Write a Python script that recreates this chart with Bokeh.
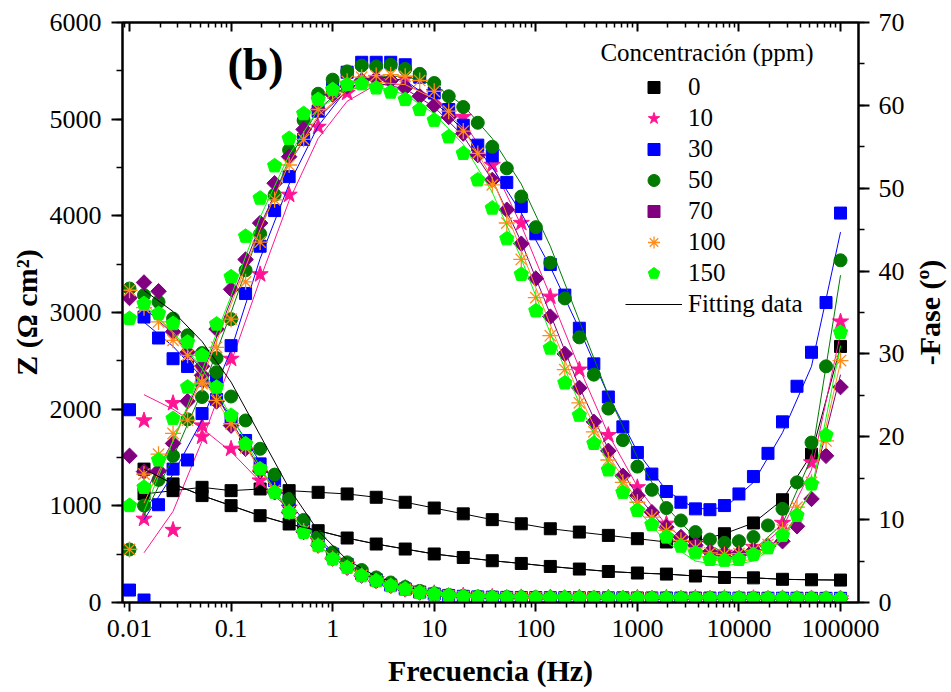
import math
from bokeh.plotting import figure
from bokeh.models import (Range1d, LinearAxis, LogAxis, FixedTicker,
                          SingleIntervalTicker, Legend, LegendItem, Label)
from bokeh.embed import file_html
from bokeh.resources import INLINE

# ---------------- data ----------------
FREQ = [0.01, 0.01389, 0.01931, 0.02683, 0.03728, 0.05179, 0.07197,
        0.1, 0.1389, 0.1931, 0.2683, 0.3728, 0.5179, 0.7197,
        1, 1.389, 1.931, 2.683, 3.728, 5.179, 7.197,
        10, 13.89, 19.31, 26.83, 37.28, 51.79, 71.97,
        100, 138.9, 193.1, 268.3, 372.8, 517.9, 719.7,
        1000, 1389, 1931, 2683, 3728, 5179, 7197,
        10000, 13890, 19310, 26830, 37280, 51790, 71970, 100000]
FREQ_ODD = FREQ[1::2]   # every other frequency (0 and 10 ppm data, fitted curves)

# ---- measured points ----
# 0 ppm (every other frequency)
PH_0 = [13.1, 13.5, 13.9, 13.5, 13.7, 13.5, 13.3, 13.1, 12.7, 12.1, 11.4, 10.7, 10.0,
        9.5, 8.9, 8.5, 8.1, 7.7, 7.3, 7.4, 8.3, 9.6, 12.4, 17.9, 30.9]
Z_0 = [1380, 1227, 1106, 1002, 898, 812, 743, 667, 605, 553, 502, 466, 432,
       404, 373, 346, 321, 305, 294, 274, 259, 255, 240, 235, 232]

# 10 ppm (every other frequency)
PH_10 = [10.1, 8.75, 20.0, 29.4, 39.6, 49.2, 57.4, 61.5, 63.3, 63.2, 61.6, 58.6, 52.8,
         45.8, 36.9, 28.1, 20.2, 13.9, 9.5, 7.1, 6.0, 6.7, 9.6, 16.9, 33.9]
Z_10 = [1883, 2062, 1831, 1590, 1261, 980, 640, 390, 240, 150, 95, 70, 58,
        53, 51, 50, 49, 48, 47, 46, 45, 44, 43, 42, 41]

# 30 ppm
PH_30 = [1.5, 0.3, 11.8, 16.1, 17.2, 22.8, 27.2, 31.0, 37.3, 43.0,
         47.3, 51.4, 55.9, 59.3, 62.3, 64.0, 65.2, 65.2, 65.2, 64.9,
         63.4, 61.5, 59.5, 57.6, 55.2, 53.9, 50.7, 47.8, 44.5, 40.8,
         37.1, 33.1, 28.8, 24.8, 21.2, 18.1, 15.5, 13.4, 12.1, 11.3,
         11.2, 11.7, 13.1, 15.2, 18.0, 21.8, 26.1, 30.2, 36.2, 47.0]
Z_30 = [1994, 2953, 2736, 2522, 2442, 2300, 2100, 1900, 1676, 1434,
        1261, 1040, 820, 650, 500, 395, 300, 235, 180, 140,
        108, 88, 73, 64, 58, 55, 53, 52, 51, 50,
        50, 49, 49, 48, 48, 47, 47, 47, 46, 46,
        46, 45, 45, 45, 44, 44, 44, 43, 43, 43]

# 50 ppm
PH_50 = [6.4, 11.7, 14.8, 17.7, 22.1, 24.8, 29.5, 34.2, 40.1, 44.5,
         49.2, 54.6, 58.2, 61.4, 63.1, 64.1, 64.8, 64.7, 64.9, 64.4,
         63.8, 62.7, 61.1, 59.8, 57.9, 55.0, 52.4, 49.0, 45.3, 41.0,
         36.7, 32.0, 27.5, 23.4, 19.6, 16.4, 13.6, 11.4, 9.9, 8.5,
         7.6, 7.2, 7.4, 7.9, 9.3, 11.3, 14.5, 19.3, 28.5, 41.3]
Z_50 = [3248, 3180, 3109, 2937, 2764, 2580, 2383, 2131, 1883, 1590,
        1323, 1071, 854, 680, 518, 415, 336, 259, 207, 160,
        120, 95, 78, 68, 62, 58, 56, 55, 54, 53,
        52, 52, 51, 51, 50, 50, 49, 49, 48, 48,
        47, 47, 46, 46, 45, 45, 44, 44, 43, 43]

# 70 ppm
PH_70 = [17.7, 15.8, 15.9, 19.2, 24.3, 28.5, 33.0, 37.8, 41.4, 45.8,
         50.6, 53.8, 57.1, 59.5, 61.3, 62.3, 63.0, 63.2, 63.0, 62.1,
         61.1, 60.0, 58.6, 56.6, 54.0, 51.0, 47.4, 43.3, 39.1, 34.5,
         30.0, 25.9, 21.8, 18.3, 15.3, 12.9, 10.9, 9.1, 7.9, 6.9,
         6.1, 5.9, 5.9, 6.3, 6.8, 7.4, 9.2, 12.5, 17.7, 26.0]
Z_70 = [3150, 3310, 3220, 2800, 2590, 2350, 2080, 1830, 1590, 1360,
        1140, 930, 730, 590, 455, 360, 278, 222, 172, 137,
        104, 85, 70, 62, 57, 54, 52, 51, 50, 49,
        49, 48, 48, 47, 47, 46, 46, 45, 45, 44,
        44, 43, 43, 42, 42, 41, 41, 40, 40, 40]

# 100 ppm
PH_100 = [6.4, 15.5, 17.9, 20.4, 22.0, 26.4, 30.8, 34.2, 38.7, 43.5,
          48.6, 52.8, 55.9, 59.5, 61.5, 62.9, 63.4, 63.6, 63.7, 63.5,
          63.0, 61.7, 59.3, 56.9, 54.2, 50.4, 45.8, 41.4, 36.8, 32.2,
          28.1, 24.1, 20.6, 17.2, 14.5, 12.1, 10.3, 8.7, 7.5, 6.6,
          6.0, 5.8, 5.9, 6.3, 7.0, 8.8, 11.5, 14.5, 19.5, 29.2]
Z_100 = [3230, 3050, 2902, 2712, 2557, 2280, 2090, 1849, 1600, 1370,
         1160, 940, 740, 590, 455, 360, 280, 222, 172, 135,
         104, 85, 70, 61, 56, 53, 51, 50, 49, 48,
         48, 47, 47, 46, 46, 45, 45, 44, 44, 43,
         43, 42, 42, 41, 41, 40, 40, 39, 39, 38]

# 150 ppm
PH_150 = [11.7, 13.9, 17.2, 22.2, 26.0, 29.8, 33.6, 39.3, 44.2, 48.8,
          52.7, 56.0, 59.0, 60.7, 61.9, 62.5, 62.6, 62.1, 61.6, 60.7,
          59.5, 58.2, 56.2, 54.2, 51.0, 47.6, 43.9, 39.6, 35.2, 30.7,
          26.5, 22.6, 19.2, 16.0, 13.3, 11.1, 9.4, 7.9, 6.8, 6.0,
          5.2, 5.1, 5.2, 5.8, 6.6, 8.1, 10.5, 14.3, 20.2, 32.6]
Z_150 = [2937, 3092, 2989, 2885, 2694, 2557, 2228, 1935, 1641, 1382,
         1140, 933, 725, 588, 450, 363, 277, 225, 173, 139,
         104, 87, 72, 62, 56, 53, 51, 50, 49, 49,
         48, 48, 47, 47, 46, 46, 45, 45, 45, 44,
         44, 44, 43, 43, 43, 42, 42, 42, 41, 41]

# ---- fitted curves (read at every other frequency) ----
FIT_PH_10 = [6.0, 11.0, 19.5, 29.0, 39.0, 48.5, 56.0, 60.5, 62.5, 62.5, 61.0, 58.0, 52.8,
             45.5, 37.0, 28.3, 20.3, 14.0, 9.3, 6.6, 5.4, 6.0, 9.0, 16.0, 32.5]
FIT_Z_10 = [2150, 2000, 1800, 1560, 1250, 960, 630, 385, 238, 150, 95, 70, 58,
            53, 51, 50, 49, 48, 47, 46, 45, 44, 43, 42, 41]
FIT_PH_30 = [10.0, 15.5, 22.0, 30.5, 41.5, 50.5, 57.5, 62.0, 63.5, 63.0, 60.5, 57.0, 52.5,
             47.0, 40.5, 33.0, 25.0, 18.2, 13.5, 11.3, 11.4, 14.5, 20.5, 28.5, 44.7]
FIT_Z_30 = [2900, 2650, 2330, 1920, 1450, 1040, 660, 400, 238, 142, 90, 65, 55,
            52, 50, 49, 48, 47, 47, 46, 45, 45, 44, 43, 43]
FIT_PH_50 = [10.5, 17.5, 25.5, 35.0, 45.0, 53.5, 59.5, 62.5, 63.5, 63.5, 62.5, 60.0, 56.0,
             50.5, 43.0, 34.0, 25.0, 17.5, 11.5, 7.8, 6.0, 6.3, 9.5, 17.5, 39.5]
FIT_Z_50 = [3230, 3010, 2700, 2280, 1730, 1180, 740, 440, 270, 165, 100, 70, 58,
            55, 53, 52, 51, 50, 49, 48, 47, 46, 45, 44, 43]
FIT_PH_70 = [13.0, 19.5, 27.5, 36.5, 45.5, 53.0, 58.5, 61.8, 62.7, 62.0, 59.8, 56.3, 51.0,
             43.5, 34.8, 26.0, 18.5, 12.9, 8.8, 6.3, 5.4, 5.8, 7.8, 13.5, 27.5]
FIT_Z_70 = [3050, 2780, 2400, 1880, 1380, 930, 590, 360, 222, 137, 85, 62, 54,
            51, 49, 48, 47, 46, 45, 44, 43, 42, 41, 40, 40]
FIT_PH_100 = [12.0, 19.5, 27.0, 36.0, 45.0, 53.0, 58.8, 61.8, 62.8, 62.5, 60.8, 57.2, 51.2,
              42.5, 33.5, 25.0, 17.8, 12.2, 8.2, 5.8, 4.8, 5.2, 7.8, 13.5, 29.0]
FIT_Z_100 = [3120, 2780, 2330, 1850, 1370, 940, 590, 360, 222, 135, 85, 61, 53,
             50, 48, 47, 46, 45, 44, 43, 42, 41, 40, 39, 38]
FIT_PH_150 = [11.0, 19.5, 28.0, 37.0, 46.5, 54.0, 59.5, 62.0, 62.3, 61.3, 59.0, 55.3, 49.5,
              41.5, 32.5, 24.0, 16.8, 11.2, 7.3, 5.0, 4.4, 5.0, 7.5, 13.5, 31.0]
FIT_Z_150 = [3080, 2800, 2420, 1930, 1400, 940, 590, 362, 225, 139, 87, 62, 53,
             50, 49, 48, 47, 46, 45, 44, 44, 43, 42, 42, 41]

SERIES_LABELS = ["0", "10", "30", "50", "70", "100", "150"]
X_TICKS = [0.01, 0.1, 1, 10, 100, 1000, 10000, 100000]
X_TICK_LABELS = ["0.01", "0.1", "1", "10", "100", "1000", "10000", "100000"]

FONT = "Liberation Serif"

# ---------------- figure ----------------
p = figure(width=951, height=692, x_axis_type="log",
           x_range=Range1d(0.00853, 150300), y_range=Range1d(0, 6000),
           output_backend="svg", toolbar_location=None,
           min_border_left=122, min_border_right=93,
           min_border_top=22, min_border_bottom=90)
p.extra_y_ranges = {"phase": Range1d(0, 70)}
p.xgrid.visible = False
p.ygrid.visible = False
p.outline_line_color = "black"
p.outline_line_width = 2
p.background_fill_color = "white"
p.border_fill_color = "white"

x_minor = [k * 10.0 ** d for d in range(-3, 6) for k in range(2, 10)]


def style_axis(ax, tick_out, minor_out, standoff, label_standoff):
    ax.axis_line_width = 2
    ax.major_tick_line_width = 2
    ax.minor_tick_line_width = 1.5
    ax.major_tick_in = 0
    ax.major_tick_out = tick_out
    ax.minor_tick_in = 0
    ax.minor_tick_out = minor_out
    ax.major_label_text_font = FONT
    ax.major_label_text_font_size = "26px"
    ax.major_label_text_color = "black"
    ax.major_label_standoff = standoff
    ax.axis_label_text_font = FONT
    ax.axis_label_text_font_size = "30px"
    ax.axis_label_text_font_style = "bold"
    ax.axis_label_text_color = "black"
    ax.axis_label_standoff = label_standoff


# bottom axis
xa = p.xaxis[0]
xa.ticker = FixedTicker(ticks=X_TICKS, minor_ticks=x_minor)
xa.major_label_overrides = dict(zip(X_TICKS, X_TICK_LABELS))
xa.axis_label = "Frecuencia (Hz)"
style_axis(xa, 9, 5, 8, 14)

# left axis
ya = p.yaxis[0]
ya.ticker = SingleIntervalTicker(interval=1000, num_minor_ticks=2)
ya.axis_label = "Z (Ω cm²)"
style_axis(ya, 11, 6, 10, 4)

# top axis (ticks inside, no labels)
top = LogAxis(ticker=FixedTicker(ticks=X_TICKS, minor_ticks=x_minor))
style_axis(top, 0, 0, 0, 0)
top.major_tick_in = 9
top.minor_tick_in = 5
top.major_label_text_font_size = "1px"
top.major_label_text_alpha = 0
p.add_layout(top, "above")

# right axis (phase); its title is a label in the right panel, reading upward
ra = LinearAxis(y_range_name="phase",
                ticker=SingleIntervalTicker(interval=10, num_minor_ticks=2))
style_axis(ra, 11, 6, 9, 10)
p.add_layout(ra, "right")
p.add_layout(Label(x=7.5e5, y=3000, text="-Fase (º)", angle=math.pi / 2,
                   text_font=FONT, text_font_size="30px",
                   text_font_style="bold", text_color="black",
                   text_baseline="middle", text_align="center"), "right")

# ---------------- series ----------------
legend_renderers = []


def draw(fx, zv, pv, fph, fz, color, marker, size, angle=0.0, lw=1.0,
         fill=True, zfit_color=None):
    kw = dict(marker=marker, size=size, angle=angle, line_color=color,
              fill_color=color if fill else None, line_width=lw)
    r_ph = p.scatter(fx, pv, y_range_name="phase", **kw)
    p.scatter(fx, zv, **kw)
    p.line(FREQ_ODD, fph, y_range_name="phase", line_color=color, line_width=1)
    p.line(FREQ_ODD, fz, line_color=zfit_color or color, line_width=1)
    return r_ph


legend_renderers.append(draw(FREQ_ODD, Z_0, PH_0, PH_0, Z_0,
                             "black", "square", 12))
legend_renderers.append(draw(FREQ_ODD, Z_10, PH_10, FIT_PH_10, FIT_Z_10,
                             "#FF1493", "star", 17))
legend_renderers.append(draw(FREQ, Z_30, PH_30, FIT_PH_30, FIT_Z_30,
                             "#0000FF", "square", 12))
legend_renderers.append(draw(FREQ, Z_50, PH_50, FIT_PH_50, FIT_Z_50,
                             "#007A00", "circle", 13, zfit_color="black"))
legend_renderers.append(draw(FREQ, Z_70, PH_70, FIT_PH_70, FIT_Z_70,
                             "#800080", "square", 11, angle=math.pi / 4))
legend_renderers.append(draw(FREQ, Z_100, PH_100, FIT_PH_100, FIT_Z_100,
                             "#FF8C1A", "asterisk", 16, lw=1.3, fill=False))

lime = "#00FF00"
ph_pent = None
try:
    ph_pent = p.ngon(FREQ, PH_150, radius=7.5, radius_units="screen", n=5,
                     angle=0, fill_color=lime, line_color=lime,
                     y_range_name="phase")
    p.ngon(FREQ, Z_150, radius=7.5, radius_units="screen", n=5, angle=0,
           fill_color=lime, line_color=lime)
except Exception:
    ph_pent = p.scatter(FREQ, PH_150, marker="hex", size=14, fill_color=lime,
                        line_color=lime, y_range_name="phase")
    p.scatter(FREQ, Z_150, marker="hex", size=14, fill_color=lime,
              line_color=lime)
p.line(FREQ_ODD, FIT_PH_150, y_range_name="phase", line_color=lime, line_width=1)
p.line(FREQ_ODD, FIT_Z_150, line_color=lime, line_width=1)
legend_renderers.append(ph_pent)

fit_r = p.line(FREQ_ODD, Z_0, line_color="black", line_width=1)

items = [LegendItem(label=lab, renderers=[r])
         for lab, r in zip(SERIES_LABELS, legend_renderers)]
items.append(LegendItem(label="Fitting data", renderers=[fit_r]))

legend = Legend(items=items, location=(503, 283), orientation="vertical",
                glyph_width=57, glyph_height=30, spacing=1, padding=0, margin=0,
                label_standoff=6, label_text_font=FONT, label_text_color="black",
                label_text_font_size="25px", border_line_color=None,
                background_fill_alpha=0)
p.add_layout(legend)

p.add_layout(Label(x=432.5, y=5686, text="Concentración (ppm)",
                   text_font=FONT, text_font_size="25px", text_color="black",
                   text_baseline="middle", text_align="left"))
p.add_layout(Label(x=0.174, y=5562, text="(b)", text_font=FONT,
                   text_font_size="46px", text_font_style="bold",
                   text_color="black",
                   text_baseline="middle", text_align="center"))

open("out.html", "w").write(file_html(p, INLINE))
